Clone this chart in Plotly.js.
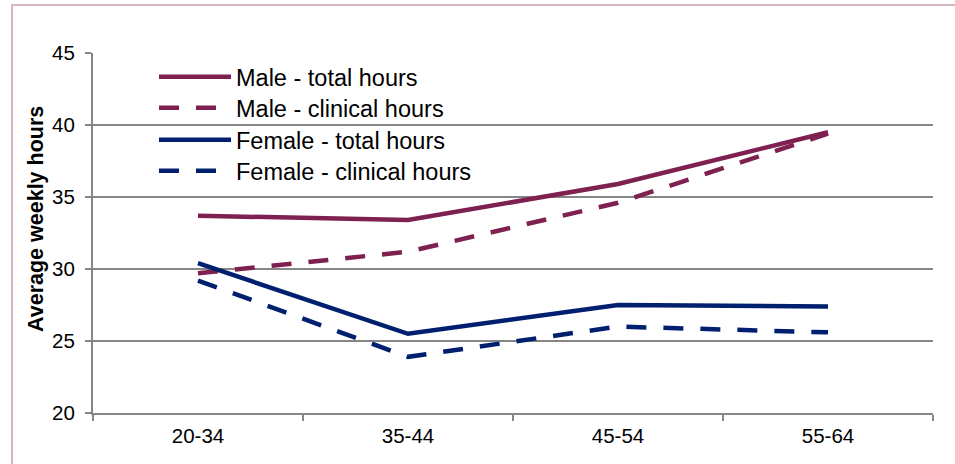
<!DOCTYPE html>
<html>
<head>
<meta charset="utf-8">
<script src="https://cdn.plot.ly/plotly-3.0.1.min.js"></script>
<style>
html,body{margin:0;padding:0;background:#fff;}
#chart{width:955px;height:464px;}
</style>
</head>
<body>
<div id="chart"></div>
<script>
var categories = ["20-34", "35-44", "45-54", "55-64"];
var maleTotal = [33.7, 33.4, 35.9, 39.5];
var maleClinical = [29.7, 31.2, 34.6, 39.4];
var femaleTotal = [30.4, 25.5, 27.5, 27.4];
var femaleClinical = [29.2, 23.9, 26.0, 25.6];
var seriesNames = ["Male - total hours", "Male - clinical hours", "Female - total hours", "Female - clinical hours"];
var yTicks = [20, 25, 30, 35, 40, 45];
var yTitle = "Average weekly hours";

var maroon = "#7E2050";
var navy = "#00206F";
var dashPat = "20px,17px";

var traces = [
  {x: categories, y: maleTotal, name: seriesNames[0], legend: "legend", mode: "lines", line: {color: maroon, width: 4.5}},
  {x: categories, y: maleClinical, name: seriesNames[1], legend: "legend2", mode: "lines", line: {color: maroon, width: 4.5, dash: dashPat}},
  {x: categories, y: femaleTotal, name: seriesNames[2], legend: "legend3", mode: "lines", line: {color: navy, width: 4.5}},
  {x: categories, y: femaleClinical, name: seriesNames[3], legend: "legend4", mode: "lines", line: {color: navy, width: 4.5, dash: dashPat}}
];

var W = 840, H = 360, L = 93, T = 53;
function px(x){ return (x - L) / W; }
function py(y){ return (T + H - y) / H; }

function leg(yc){
  return {
    x: px(154), y: py(yc), xanchor: "left", yanchor: "middle",
    bgcolor: "rgba(0,0,0,0)", borderwidth: 0,
    font: {size: 23.5, color: "#000"},
    itemwidth: 72
  };
}

var layout = {
  width: 955, height: 464,
  margin: {l: L, r: 955 - L - W, t: T, b: 464 - T - H, pad: 0},
  paper_bgcolor: "#fff", plot_bgcolor: "#fff",
  font: {family: "Liberation Sans, Arial, sans-serif", color: "#000"},
  showlegend: true,
  legend: leg(77), legend2: leg(108), legend3: leg(140), legend4: leg(171),
  xaxis: {
    type: "category", range: [-0.5, 3.5], fixedrange: true,
    tickson: "boundaries", ticks: "outside", ticklen: 6, tickwidth: 1.5, tickcolor: "#868686",
    showgrid: false, zeroline: false,
    showline: true, linecolor: "#868686", linewidth: 2,
    tickfont: {size: 20.5, color: "#000"}, ticklabelstandoff: 3
  },
  yaxis: {
    range: [20, 45], tickvals: yTicks, ticktext: yTicks.map(String),
    ticks: "outside", ticklen: 6, tickwidth: 1.5, tickcolor: "#868686",
    showgrid: true, gridcolor: "#868686", gridwidth: 1.5,
    zeroline: false, showline: true, linecolor: "#868686", linewidth: 2,
    tickfont: {size: 20.5, color: "#000"}, ticklabelstandoff: 6
  },
  annotations: [
    {text: "<b>" + yTitle + "</b>", xref: "paper", yref: "paper", x: px(36), y: py(219),
     xanchor: "center", yanchor: "middle", textangle: -90, showarrow: false,
     font: {size: 21.5, color: "#000"}}
  ],
  shapes: [
    {type: "rect", xref: "paper", yref: "paper", layer: "between",
     x0: px(132), x1: px(504), y0: py(193), y1: py(56),
     fillcolor: "#fff", line: {width: 0}},
    {type: "rect", xref: "paper", yref: "paper", layer: "above",
     x0: px(12), x1: px(990), y0: py(500), y1: py(5),
     fillcolor: "rgba(0,0,0,0)", line: {color: "#C8A0AF", width: 1.5}}
  ]
};

Plotly.newPlot("chart", traces, layout, {displayModeBar: false, staticPlot: true});
</script>
</body>
</html>
